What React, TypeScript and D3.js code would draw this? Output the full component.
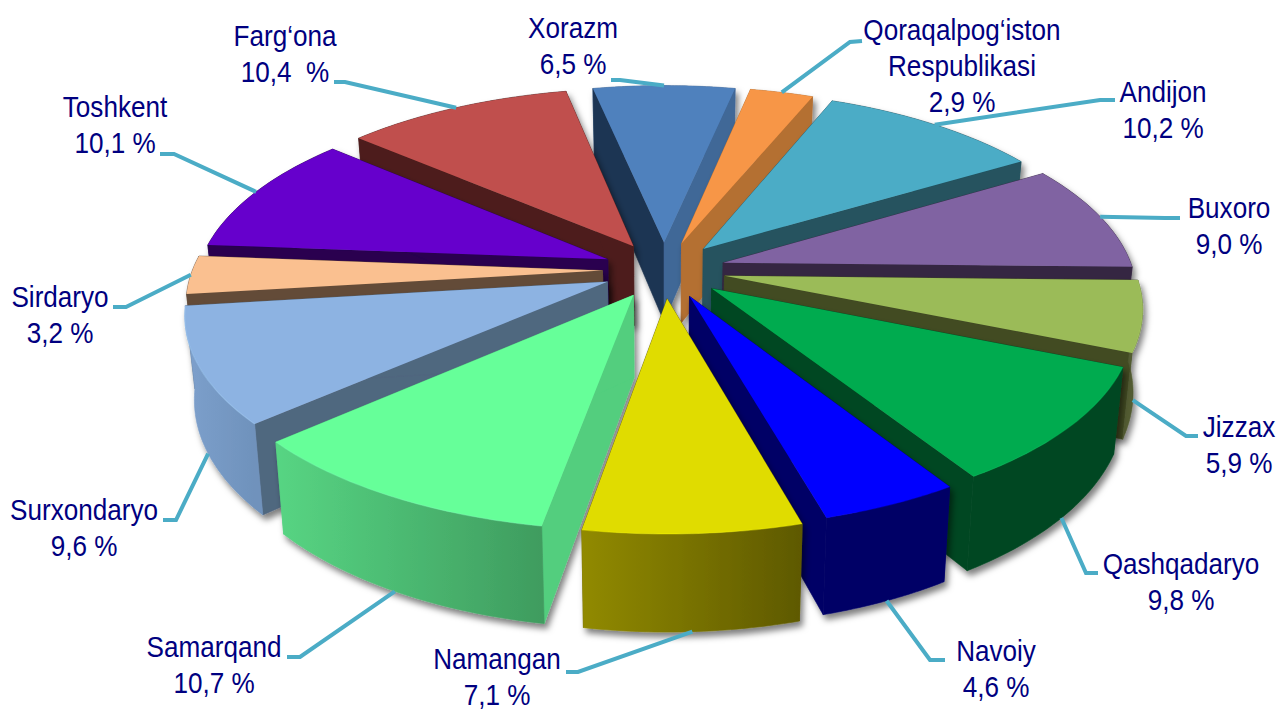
import React, { useEffect, useRef } from 'react';
import * as d3 from 'd3';

// Chart data, clockwise from the slice at the back
const regions = ['Xorazm', 'Qoraqalpog‘iston|Respublikasi', 'Andijon', 'Buxoro', 'Jizzax', 'Qashqadaryo', 'Navoiy', 'Namangan', 'Samarqand', 'Surxondaryo', 'Sirdaryo', 'Toshkent', 'Farg‘ona'];
const shares = [6.5, 2.9, 10.2, 9.0, 5.9, 9.8, 4.6, 7.1, 10.7, 9.6, 3.2, 10.1, 10.4];
const shareLabels = ['6,5 %', '2,9 %', '10,2 %', '9,0 %', '5,9 %', '9,8 %', '4,6 %', '7,1 %', '10,7 %', '9,6 %', '3,2 %', '10,1 %', '10,4  %'];

// Slice colours
const topColors = ['#4F81BD', '#F79646', '#4BACC6', '#8064A2', '#9BBB59', '#00AB50', '#0000FF', '#E0DC00', '#66FF99', '#8DB3E2', '#FAC090', '#6600CC', '#C0504D'];
const startWallColors = ['#1F3552', '#B46F33', '#25535F', '#362843', '#424B24', '#004721', '#000066', '#5F5A00', '#52CE7E', '#50677F', '#644B38', '#290050', '#4D1E1E'];
const endWallColors = ['#3F6797', '#B46F33', '#25535F', '#362843', '#424B24', '#004721', '#000066', '#5F5A00', '#52CE7E', '#50677F', '#644B38', '#290050', '#4D1E1E'];
const outerLeft = ['#3F6797', '#B46F33', '#25535F', '#362843', '#525B32', '#004721', '#000066', '#918A00', '#57D583', '#7DA0CC', '#644B38', '#290050', '#4D1E1E'];
const outerRight = ['#3F6797', '#B46F33', '#25535F', '#362843', '#3E4722', '#004721', '#000066', '#5E5900', '#3F9C5F', '#6F92BC', '#644B38', '#290050', '#4D1E1E'];

// Label layout: centre x, first baseline, elbow of the leader, how far down the wall it lands
const labelX = [573, 962, 1163, 1229, 1239, 1181, 996, 497, 214, 84, 60, 115, 285];
const labelY = [38, 40, 102, 218, 437, 574, 661, 669, 657, 520, 307, 117, 46];
const leaderStart = [[611, 80], [862, 41], [1115, 100], [1180, 218], [1198, 436], [1098, 573], [945, 660], [566, 672], [287, 657], [163, 520], [113, 307], [160, 154], [334, 82]];
const leaderElbow = [[620, 80], [850, 42], [1100, 100], [1165, 218], [1186, 436], [1086, 573], [930, 660], [578, 672], [300, 657], [176, 520], [126, 307], [174, 154], [345, 82]];
const leaderDrop = [0, 0, 0, 0, 1, 1, 1, 1, 1, 1, 0, 0, 0];

// A few front slices sit a little larger in the picture
const rimScale = [1, 1, 1, 1, 1, 1, 1, 1.01, 1.015, 1.006, 1, 1, 1];

const width = 1279;
const height = 712;
const cx = 664;
const cy = 270;
const spreadX = 410;
const spreadY = 188;
const perspective = 0.15;
const explode = 0.15;
const wallDepth = 81;
const wallShrink = 0.98;
const firstAngle = (-11.7 * Math.PI) / 180;

const App = () => {
  const svgRef = useRef<SVGSVGElement>(null);

  useEffect(() => {
    const svg = d3.select(svgRef.current);
    svg.selectAll('*').remove();

    const defs = svg.append('defs');
    const shadow = defs
      .append('filter')
      .attr('id', 'sliceShadow')
      .attr('x', '-10%')
      .attr('y', '-10%')
      .attr('width', '120%')
      .attr('height', '125%');
    shadow
      .append('feDropShadow')
      .attr('dx', 3)
      .attr('dy', 5)
      .attr('stdDeviation', 3)
      .attr('flood-color', '#000')
      .attr('flood-opacity', 0.5);

    const pie = d3
      .pie<number>()
      .sort(null)
      .startAngle(firstAngle)
      .endAngle(firstAngle + 2 * Math.PI);
    const arcs = pie(shares);

    // Ground plane point of a slice to screen, drop = 0 on top, 1 at the bottom of the wall
    const project = (mid: number, angle: number, radius: number, drop: number): [number, number] => {
      const wx = radius * Math.sin(angle) + explode * Math.sin(mid);
      const wy = radius * Math.cos(angle) + explode * Math.cos(mid);
      const w = 1 + perspective * wy;
      const sx = (spreadX * wx) / w;
      const sy = (-spreadY * wy) / w;
      const shrink = 1 - (1 - wallShrink) * drop;
      return [cx + sx * shrink, cy + sy + (drop * wallDepth) / w];
    };

    const line = d3.line();
    const midOf = (d: d3.PieArcDatum<number>) => (d.startAngle + d.endAngle) / 2;

    const order = d3.range(arcs.length).sort((a, b) => Math.cos(midOf(arcs[b])) - Math.cos(midOf(arcs[a])));

    order.forEach((i) => {
      const d = arcs[i];
      const mid = midOf(d);
      const samples = d3.range(0, 41).map((k) => d.startAngle + ((d.endAngle - d.startAngle) * k) / 40);
      const topRim = samples.map((a) => project(mid, a, rimScale[i], 0));
      const bottomRim = samples.map((a) => project(mid, a, rimScale[i], 1));
      const tipTop = project(mid, mid, 0, 0);
      const tipBottom = project(mid, mid, 0, 1);

      const g = svg.append('g').attr('filter', 'url(#sliceShadow)');

      const xs = topRim.map((p) => p[0]);
      const grad = defs
        .append('linearGradient')
        .attr('id', `outer${i}`)
        .attr('gradientUnits', 'userSpaceOnUse')
        .attr('x1', d3.min(xs))
        .attr('x2', d3.max(xs))
        .attr('y1', 0)
        .attr('y2', 0);
      grad.append('stop').attr('offset', 0).attr('stop-color', outerLeft[i]);
      grad.append('stop').attr('offset', 1).attr('stop-color', outerRight[i]);

      const drawOuter = () =>
        g
          .append('path')
          .attr('d', line([...topRim, ...bottomRim.slice().reverse()]) + 'Z')
          .attr('fill', `url(#outer${i})`)
          .attr('stroke', `url(#outer${i})`)
          .attr('stroke-width', 0.6);

      // Back slices turn the rim away, so it has to sit behind the side walls
      const rimFacesAway = Math.cos(mid) > -0.1;
      if (rimFacesAway) drawOuter();

      g.append('path')
        .attr('d', line([tipTop, topRim[0], bottomRim[0], tipBottom]) + 'Z')
        .attr('fill', startWallColors[i])
        .attr('stroke', startWallColors[i])
        .attr('stroke-width', 0.6);
      g.append('path')
        .attr('d', line([tipTop, topRim[40], bottomRim[40], tipBottom]) + 'Z')
        .attr('fill', endWallColors[i])
        .attr('stroke', endWallColors[i])
        .attr('stroke-width', 0.6);

      if (!rimFacesAway) drawOuter();

      g.append('path')
        .attr('d', line([tipTop, ...topRim]) + 'Z')
        .attr('fill', topColors[i]);

      // Soft bevel along the rim of the slices that face the viewer
      if (!rimFacesAway) {
        g.append('path')
          .attr('d', line(topRim))
          .attr('fill', 'none')
          .attr('stroke', d3.color(topColors[i])!.brighter(0.5).formatHex())
          .attr('stroke-opacity', 0.35)
          .attr('stroke-width', 1.2);
      }
    });

    // Leader lines land on the middle of each slice
    arcs.forEach((d, i) => {
      const mid = midOf(d);
      const end = project(mid, mid, rimScale[i], leaderDrop[i]);
      svg
        .append('path')
        .attr('d', line([leaderStart[i] as [number, number], leaderElbow[i] as [number, number], end]))
        .attr('fill', 'none')
        .attr('stroke', '#4BACC6')
        .attr('stroke-width', 4);
    });

    // Labels, condensed Arial-like type
    regions.forEach((name, i) => {
      const lines = [...name.split('|'), shareLabels[i]];
      lines.forEach((text, k) => {
        svg
          .append('text')
          .attr('transform', `translate(${labelX[i]},${labelY[i] + k * 36}) scale(0.87,1)`)
          .attr('text-anchor', 'middle')
          .attr('font-family', '"Liberation Sans", Arial, sans-serif')
          .attr('font-size', 30)
          .attr('fill', '#000080')
          .style('white-space', 'pre')
          .text(text);
      });
    });
  }, []);

  return (
    <svg
      ref={svgRef}
      width={width}
      height={height}
      style={{ position: 'absolute', left: 0, top: 0, display: 'block', background: '#fff' }}
    />
  );
};

export default App;
